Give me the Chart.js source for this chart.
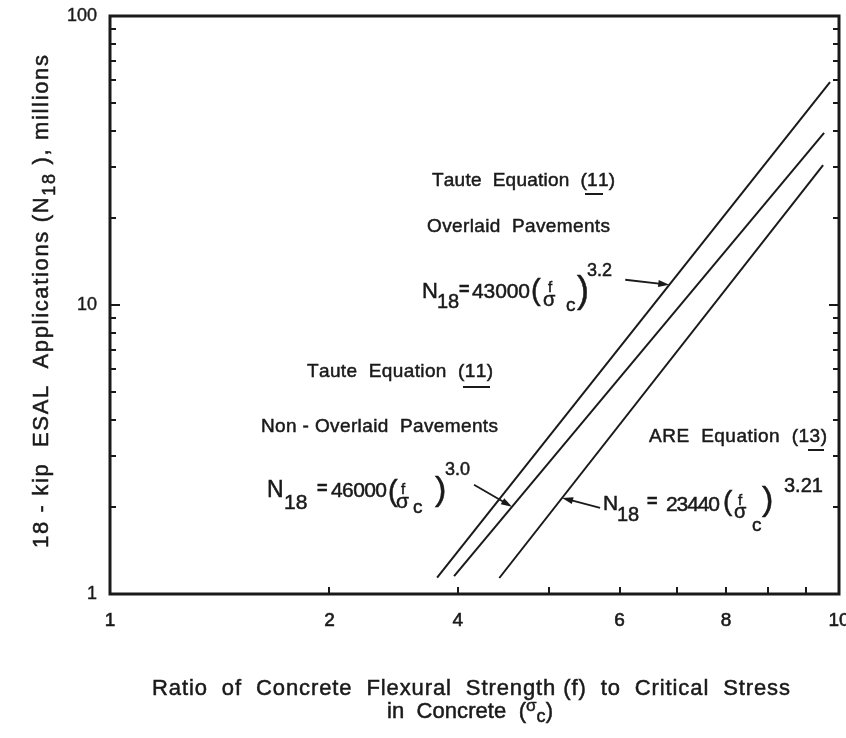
<!DOCTYPE html>
<html>
<head>
<meta charset="utf-8">
<script src="https://cdn.jsdelivr.net/npm/chart.js@4.4.1/dist/chart.umd.min.js"></script>
<style>
  html, body { margin: 0; padding: 0; background: #fff; }
  canvas { display: block; }
</style>
</head>
<body>
<canvas id="chart" width="846" height="738"></canvas>
<script>
// x: ratio f / sigma_c, y: N18 in millions (log-log)
const xTickValues = [1, 2, 3, 4, 5, 6, 7, 8, 9, 10];
const xTickLabels = ['1', '2', '4', '', '6', '', '8', '', '', '10'];
const yTickValues = [1, 10, 100];
const yMinorTicks = [2, 3, 4, 5, 6, 7, 8, 9, 20, 30, 40, 50, 60, 70, 80, 90];

const overlaidX = [2.81, 9.72];
const overlaidY = [1.14, 59.1];
const nonOverlaidX = [2.965, 9.54];
const nonOverlaidY = [1.154, 39.4];
const areX = [3.42, 9.51];
const areY = [1.136, 30.5];

// where each equation arrow touches its line (x value)
const arrowX = [5.85, 3.56, 4.17];

const FONT = '"Liberation Sans", Arial, Helvetica, sans-serif';
const INK = '#1a1a1a';

function pts(xs, ys) {
  return xs.map((x, i) => ({ x: x, y: ys[i] }));
}

function fnt(size, bold) {
  return (bold ? 'bold ' : '') + size + 'px ' + FONT;
}

function ink(ctx, t, x, y) {
  ctx.fillText(t, x, y);
  ctx.strokeText(t, x, y);
}

// draw a run of text pieces, stretched to a target width by letter spacing
function drawRun(ctx, pieces, x, y, target) {
  const chars = [];
  pieces.forEach(p => {
    for (const ch of p[0]) chars.push({ ch: ch, size: p[1], dy: p[2] || 0 });
  });
  let nat = 0;
  chars.forEach(c => {
    ctx.font = fnt(c.size);
    c.w = ctx.measureText(c.ch).width;
    nat += c.w;
  });
  const extra = target ? (target - nat) / (chars.length - 1) : 0;
  let cx = x;
  chars.forEach(c => {
    ctx.font = fnt(c.size);
    ink(ctx, c.ch, cx, y + c.dy);
    cx += c.w + extra;
  });
}

function yOnLine(xs, ys, xv) {
  const t = (Math.log(xv) - Math.log(xs[0])) / (Math.log(xs[1]) - Math.log(xs[0]));
  return Math.exp(Math.log(ys[0]) + t * (Math.log(ys[1]) - Math.log(ys[0])));
}

function arrow(ctx, x1, y1, x2, y2) {
  const a = Math.atan2(y2 - y1, x2 - x1);
  ctx.beginPath();
  ctx.moveTo(x1, y1);
  ctx.lineTo(x2 - 6 * Math.cos(a), y2 - 6 * Math.sin(a));
  ctx.lineWidth = 1.8;
  ctx.stroke();
  ctx.beginPath();
  ctx.moveTo(x2, y2);
  ctx.lineTo(x2 - 11 * Math.cos(a) + 3.5 * Math.sin(a), y2 - 11 * Math.sin(a) - 3.5 * Math.cos(a));
  ctx.lineTo(x2 - 11 * Math.cos(a) - 3.5 * Math.sin(a), y2 - 11 * Math.sin(a) + 3.5 * Math.cos(a));
  ctx.closePath();
  ctx.fill();
}

// text labels: [pieces, x, baseline, width, underline]
const notes = [
  [[['Taute  Equation  (11)', 19]], 432, 186, 183, [585, 603, 193]],
  [[['Overlaid  Pavements', 19]], 427, 232, 183],
  [[['Taute  Equation  (11)', 19]], 307, 377, 186, [463, 490, 386]],
  [[['Non - Overlaid  Pavements', 19]], 261, 432, 237],
  [[['ARE  Equation  (13)', 19]], 649, 442, 178, [808, 824, 449]]
];

// equations: [text, x, baseline, size, width]
const equations = [
  [['N', 422, 298, 22], ['18', 437, 308, 20], ['=', 459, 295, 18], ['43000', 472, 298, 21, 58],
   ['(', 531, 300, 29], ['f', 548, 292, 15], ['\u03c3', 543, 306, 20], ['c', 566, 311, 19],
   [')', 577, 302, 36], ['3.2', 587, 276, 18]],
  [['N', 267, 497, 23], ['18', 284, 509, 21], ['=', 317, 494, 18], ['46000', 331, 497, 21, 56],
   ['(', 388, 501, 29], ['f', 401, 494, 15], ['\u03c3', 396, 508, 21], ['c', 413, 513, 19],
   [')', 435, 500, 34], ['3.0', 445, 475, 18]],
  [['N', 603, 510, 21], ['18', 617, 521, 20], ['=', 647, 507, 18], ['23440', 666, 511, 21, 54],
   ['(', 723, 510, 28], ['f', 738, 505, 15], ['\u03c3', 734, 518, 20], ['c', 752, 531, 19],
   [')', 762, 510, 34], ['3.21', 784, 492, 20]]
];
const arrowTails = [[-44, -5], [-38, -22], [38, 10]];

const framePlugin = {
  id: 'frame',
  afterDraw(chart) {
    const ctx = chart.ctx;
    const a = chart.chartArea;
    const xs = chart.scales.x, ys = chart.scales.y;
    ctx.save();
    ctx.strokeStyle = INK;
    ctx.fillStyle = INK;

    // frame
    ctx.lineWidth = 3;
    ctx.strokeRect(a.left, a.top, a.right - a.left, a.bottom - a.top);

    // inward minor ticks
    ctx.lineWidth = 2;
    ctx.beginPath();
    yMinorTicks.concat([10]).forEach(v => {
      const py = Math.round(ys.getPixelForValue(v));
      const len = v === 10 ? 10 : 6;
      ctx.moveTo(a.left, py); ctx.lineTo(a.left + len, py);
      ctx.moveTo(a.right, py); ctx.lineTo(a.right - len, py);
    });
    xTickValues.slice(1, -1).forEach(v => {
      const px = Math.round(xs.getPixelForValue(v));
      ctx.moveTo(px, a.bottom); ctx.lineTo(px, a.bottom - 7);
    });
    ctx.stroke();

    // arrows to the lines
    const lines = [[overlaidX, overlaidY], [nonOverlaidX, nonOverlaidY], [areX, areY]];
    lines.forEach((l, i) => {
      const hx = xs.getPixelForValue(arrowX[i]);
      const hy = ys.getPixelForValue(yOnLine(l[0], l[1], arrowX[i]));
      arrow(ctx, hx + arrowTails[i][0], hy + arrowTails[i][1], hx, hy);
    });

    ctx.textAlign = 'left';
    ctx.textBaseline = 'alphabetic';
    ctx.lineWidth = 0.5;

    notes.forEach(n => {
      drawRun(ctx, n[0], n[1], n[2], n[3]);
      if (n[4]) ctx.fillRect(n[4][0], n[4][2], n[4][1] - n[4][0], 2);
    });

    equations.forEach(eq => {
      eq.forEach(p => {
        if (p[4]) {
          drawRun(ctx, [[p[0], p[3]]], p[1], p[2], p[4]);
        } else {
          ctx.font = fnt(p[3], p[0] === '=');
          ink(ctx, p[0], p[1], p[2]);
        }
      });
    });

    // axis titles
    drawRun(ctx, [['Ratio  of  Concrete  Flexural  Strength (f)  to  Critical  Stress', 22]], 152, 695, 638);
    drawRun(ctx, [['in  Concrete  (', 22], ['\u03c3', 17, -7], ['c', 18, 4], [')', 22]], 387, 718, 166);

    ctx.save();
    ctx.translate(48, 548);
    ctx.rotate(-Math.PI / 2);
    drawRun(ctx, [['18 - kip  ESAL  Applications (N', 22], ['18', 18, 7], [' ), millions', 22]], 0, 0, 493);
    ctx.restore();

    ctx.restore();
  }
};

const lineStyle = { borderColor: INK, borderWidth: 2, pointRadius: 0, fill: false, tension: 0 };

new Chart(document.getElementById('chart'), {
  type: 'line',
  data: {
    datasets: [
      Object.assign({ label: 'Taute overlaid', data: pts(overlaidX, overlaidY) }, lineStyle),
      Object.assign({ label: 'Taute non-overlaid', data: pts(nonOverlaidX, nonOverlaidY) }, lineStyle),
      Object.assign({ label: 'ARE', data: pts(areX, areY) }, lineStyle)
    ]
  },
  options: {
    responsive: false,
    animation: false,
    devicePixelRatio: 1,
    layout: { padding: { left: 0, right: 7, top: 16, bottom: 0 } },
    plugins: { legend: { display: false }, tooltip: { enabled: false } },
    scales: {
      x: {
        type: 'logarithmic',
        min: 1,
        max: 10,
        afterBuildTicks: s => { s.ticks = xTickValues.map(v => ({ value: v })); },
        afterFit: s => { s.height = 144; s.paddingLeft = 0; s.paddingRight = 0; },
        ticks: {
          autoSkip: false, maxRotation: 0, minRotation: 0, padding: 15, color: INK,
          textStrokeColor: INK, textStrokeWidth: 0.6,
          font: { family: FONT, size: 19 },
          callback: (v, i) => xTickLabels[i]
        },
        grid: { display: false, drawTicks: false },
        border: { display: false }
      },
      y: {
        type: 'logarithmic',
        min: 1,
        max: 100,
        afterBuildTicks: s => { s.ticks = yTickValues.map(v => ({ value: v })); },
        afterFit: s => { s.width = 110; s.paddingTop = 0; s.paddingBottom = 0; },
        ticks: {
          autoSkip: false, padding: 13, color: INK,
          textStrokeColor: INK, textStrokeWidth: 0.4,
          font: { family: FONT, size: 18 },
          callback: (v, i) => String(yTickValues[i])
        },
        grid: { display: false, drawTicks: false },
        border: { display: false }
      }
    }
  },
  plugins: [framePlugin]
});
</script>
</body>
</html>
